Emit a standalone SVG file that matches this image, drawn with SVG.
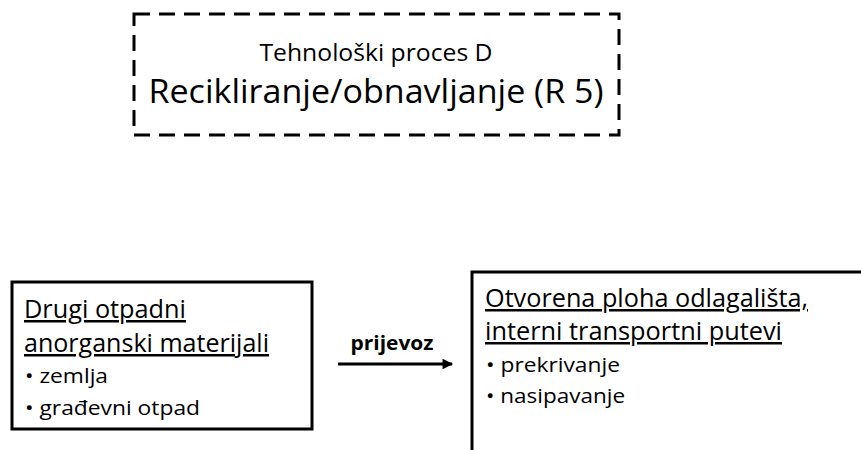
<svg xmlns="http://www.w3.org/2000/svg" width="861" height="450" viewBox="0 0 861 450">
<style>
text{font-family:"Open Sans","Noto Sans","Liberation Sans",sans-serif;fill:#000}
.box{fill:#fff;stroke:#000;stroke-width:3}
.dash{fill:none;stroke:#000;stroke-width:3;stroke-dasharray:16 9}
.h{font-size:25px;text-decoration:underline}
.b{font-size:20px}
.t1{font-size:23px}
.t2{font-size:32px}
.lbl{font-size:19px;font-weight:bold}
.conn{stroke:#000;stroke-width:3;fill:none}
</style>
<defs>
<marker id="ah" viewBox="0 0 10 10" refX="9" refY="5" markerWidth="4" markerHeight="3.5" orient="auto" markerUnits="strokeWidth">
<path d="M0,0 L10,5 L0,10 z" fill="#000"/>
</marker>
</defs>
<g id="process">
<rect class="dash" x="134" y="14" width="485" height="121"/>
<text class="t1" x="376" y="61" text-anchor="middle" textLength="233" lengthAdjust="spacingAndGlyphs">Tehnološki proces D</text>
<text class="t2" x="376" y="103" text-anchor="middle" textLength="455" lengthAdjust="spacingAndGlyphs">Recikliranje/obnavljanje (R 5)</text>
</g>
<g id="source">
<rect class="box" x="12" y="282" width="300" height="147"/>
<text class="h" x="24" y="318" textLength="162" lengthAdjust="spacingAndGlyphs">Drugi otpadni</text>
<text class="h" x="24" y="352" textLength="245" lengthAdjust="spacingAndGlyphs">anorganski materijali</text>
<text class="b" x="25" y="383" textLength="83" lengthAdjust="spacingAndGlyphs">• zemlja</text>
<text class="b" x="25" y="415" textLength="175" lengthAdjust="spacingAndGlyphs">• građevni otpad</text>
</g>
<g id="destination">
<rect class="box" x="472" y="272" width="400" height="190"/>
<text class="h" x="485" y="307" textLength="323" lengthAdjust="spacingAndGlyphs">Otvorena ploha odlagališta,</text>
<text class="h" x="485" y="340" textLength="297" lengthAdjust="spacingAndGlyphs">interni transportni putevi</text>
<text class="b" x="486" y="372" textLength="134" lengthAdjust="spacingAndGlyphs">• prekrivanje</text>
<text class="b" x="486" y="403" textLength="139" lengthAdjust="spacingAndGlyphs">• nasipavanje</text>
</g>
<g id="connectors">
<line class="conn" x1="338" y1="364" x2="452" y2="364" marker-end="url(#ah)"/>
<text class="lbl" x="392" y="350" text-anchor="middle" textLength="83" lengthAdjust="spacingAndGlyphs">prijevoz</text>
</g>
</svg>
